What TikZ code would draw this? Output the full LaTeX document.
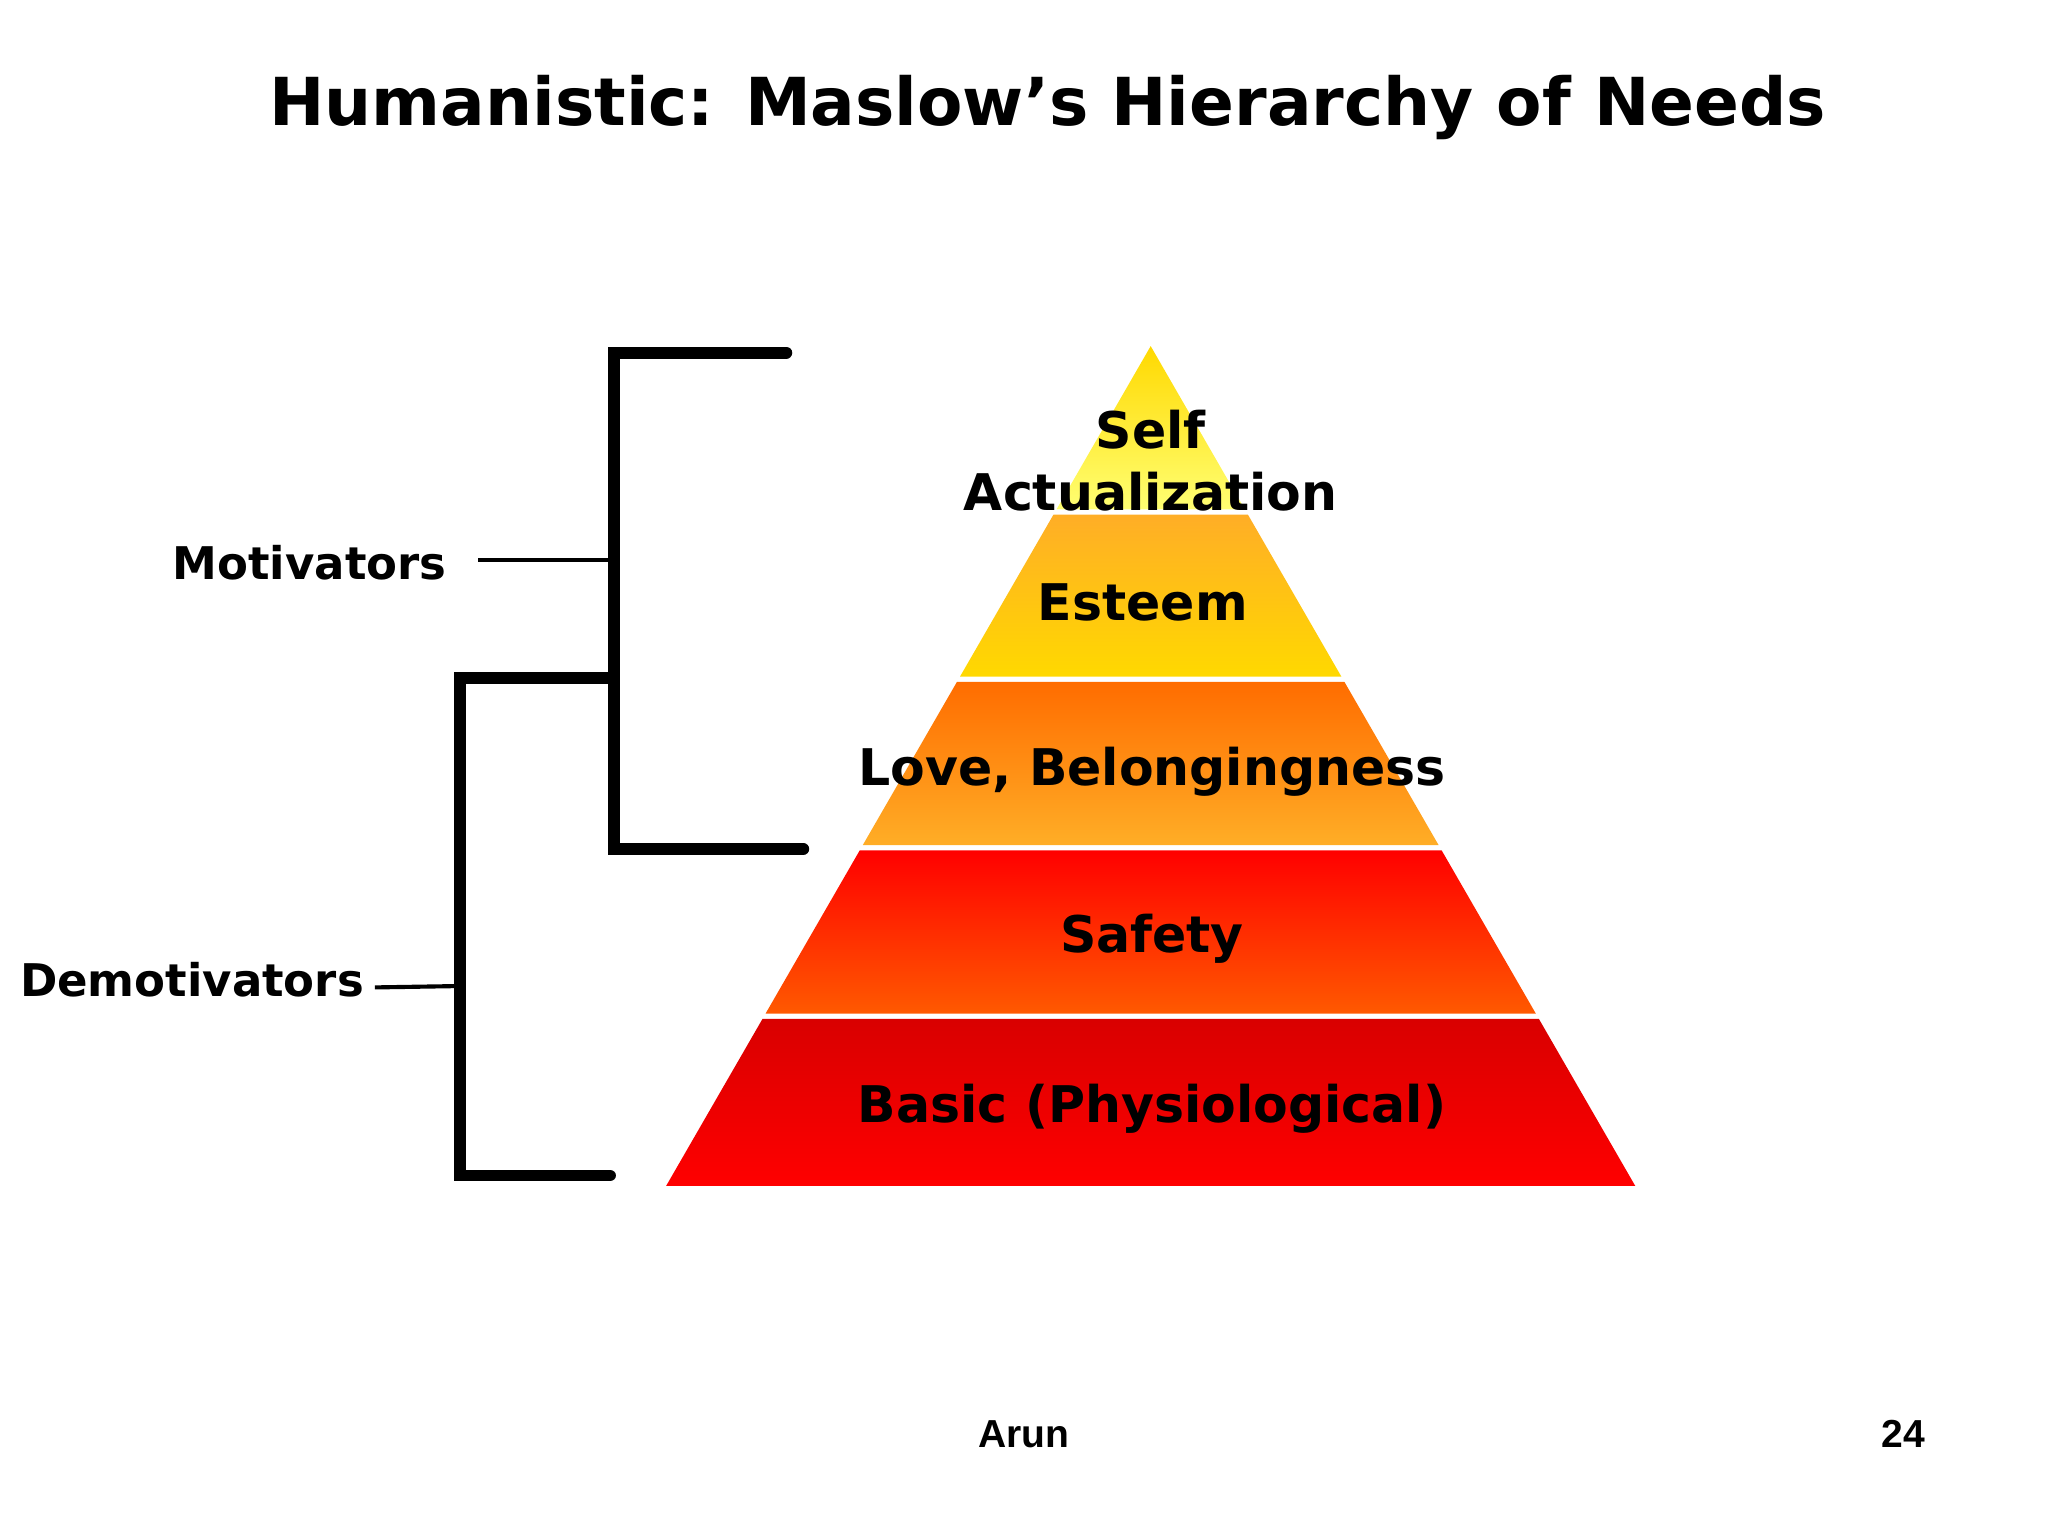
\documentclass[tikz,border=0pt]{standalone}
\usepackage{fontspec}
\setmainfont{DejaVu Sans}
\newfontfamily\arial{Liberation Sans}
\begin{document}
\begin{tikzpicture}[x=0.01cm,y=-0.01cm,
 lbl/.style={font=\bfseries\fontsize{11pt}{13.5pt}\selectfont,text=black},
 brk/.style={line width=2.6pt,line cap=round},
 lead/.style={line width=0.9pt}]
\useasboundingbox (0,0) rectangle (1568,1176);
\node[font=\bfseries\fontsize{14.4pt}{18pt}\selectfont] (title) at (802,82) {Humanistic: Maslow’s Hierarchy of Needs};
\def\band#1#2#3#4{%
 \pgfmathsetmacro\xa{881-0.577*(#1-265)}\pgfmathsetmacro\xb{881+0.577*(#1-265)}%
 \pgfmathsetmacro\xc{881-0.577*(#2-265)}\pgfmathsetmacro\xd{881+0.577*(#2-265)}%
 \shade[top color=#3,bottom color=#4] (\xa,#1) -- (\xb,#1) -- (\xd,#2) -- (\xc,#2) -- cycle;}
\shade[top color=yellow!70!orange,bottom color=yellow!55] (881,265) -- (953.1,390) -- (808.9,390) -- cycle;
\band{394}{518}{orange!75!yellow!85!white}{yellow!70!orange}
\band{522}{647}{orange!85!red}{orange!75!yellow!85!white}
\band{651}{776}{red}{orange!70!red}
\band{780}{908}{red!85!black}{red}
\node[lbl,align=center] (sa) at (881,353) {Self\\Actualization};
\node[lbl] (es) at (875,461) {Esteem};
\node[lbl] (lo) at (882,591) {Love, Belongingness};
\node[lbl] (sf) at (882,719) {Safety};
\node[lbl] (ba) at (882,849) {Basic (Physiological)};
\coordinate (u1) at (602,270); \coordinate (u2) at (470,270); \coordinate (u3) at (470,650); \coordinate (u4) at (615,650);
\coordinate (um) at (466,429);
\draw[brk] (u1) -- (u2) -- (u3) -- (u4);
\coordinate (l1) at (465,519); \coordinate (l2) at (352,519); \coordinate (l3) at (352,900); \coordinate (l4) at (467,900);
\coordinate (lm) at (348,755);
\draw[brk] (l1) -- (l2) -- (l3) -- (l4);
\node[font=\bfseries\fontsize{9.8pt}{12pt}\selectfont] (mot) at (237,431) {Motivators};
\node[font=\bfseries\fontsize{9.8pt}{12pt}\selectfont] (dem) at (147,750) {Demotivators};
\coordinate (mo) at (366,429); \coordinate (de) at (287,756);
\draw[lead] (mo) -- (um);
\draw[lead] (de) -- (lm);
\node[font=\arial\bfseries\fontsize{8.5pt}{10pt}\selectfont] (ar) at (784,1098) {Arun};
\node[font=\arial\bfseries\fontsize{8.5pt}{10pt}\selectfont] (pg) at (1457,1098) {24};
\end{tikzpicture}
\end{document}
